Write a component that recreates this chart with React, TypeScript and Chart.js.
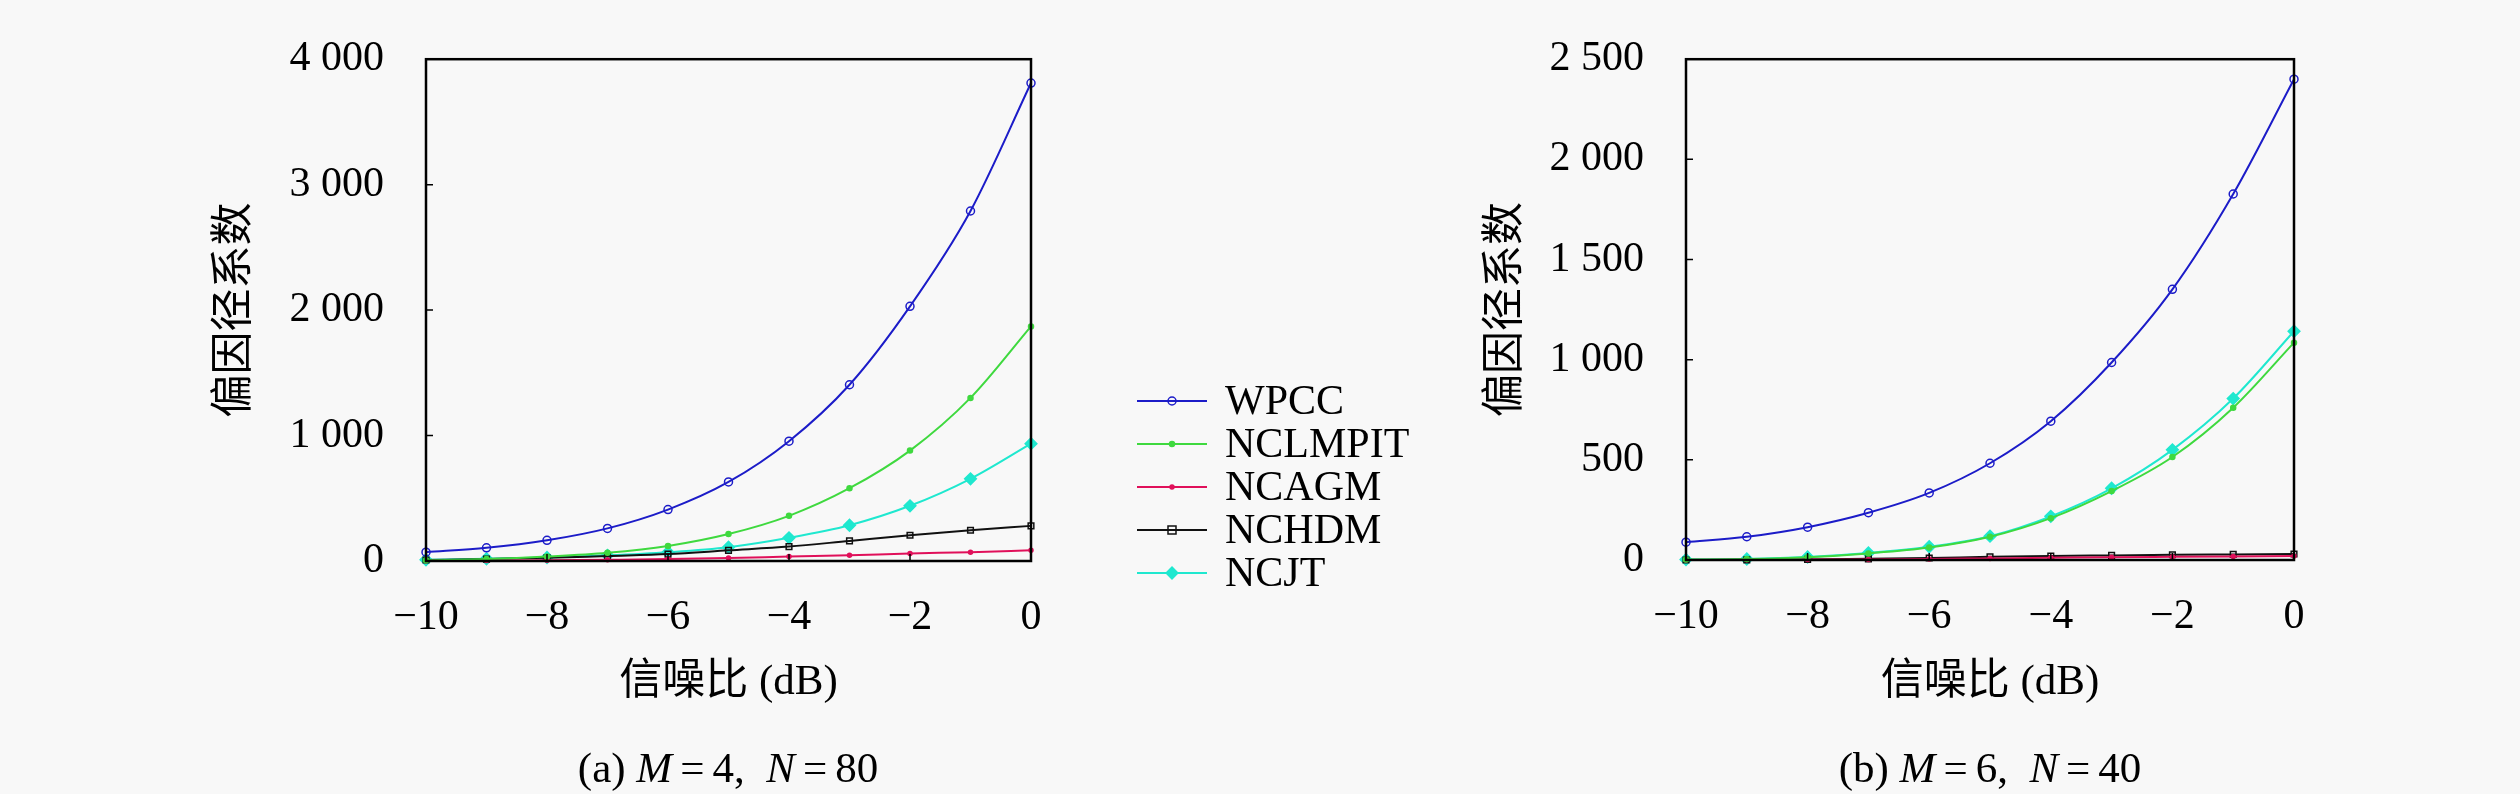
import React, { useEffect, useRef } from 'react';
import { Chart, registerables } from 'chart.js';

Chart.register(...registerables);

const snr = [-10, -9, -8, -7, -6, -5, -4, -3, -2, -1, 0];
const seriesNames = ['WPCC', 'NCLMPIT', 'NCAGM', 'NCHDM', 'NCJT'];

// (a) M=4, N=80
const wpccA = [70, 105, 165, 260, 410, 630, 955, 1405, 2030, 2790, 3810];
const nclmpitA = [5, 15, 35, 65, 120, 215, 360, 580, 880, 1300, 1870];
const ncagmA = [2, 4, 6, 10, 15, 23, 35, 46, 60, 70, 85];
const nchdmA = [8, 15, 25, 40, 55, 85, 115, 160, 205, 245, 280];
const ncjtA = [10, 18, 28, 45, 70, 110, 185, 285, 440, 655, 935];

// (b) M=6, N=40
const wpccB = [89, 116, 164, 236, 335, 483, 693, 986, 1351, 1827, 2400];
const nclmpitB = [2, 5, 14, 33, 62, 116, 209, 344, 514, 760, 1085];
const ncagmB = [0, 1, 2, 3, 5, 8, 11, 14, 16, 18, 20];
const nchdmB = [0, 1, 3, 6, 10, 16, 20, 23, 26, 28, 30];
const ncjtB = [2, 5, 15, 35, 66, 119, 218, 358, 550, 806, 1142];

const colors = ['#1c1cc8', '#3fd93f', '#e0105a', '#111111', '#1fe8cf'];
const pointStyles = ['circle', 'circle', 'circle', 'rect', 'rectRot'];
const filled = [false, true, true, false, true];
const radii = [4, 2.5, 2, 4, 4.5];

const SERIF = '"Liberation Serif", "Noto Sans CJK SC", serif';
const H = 794;

const fmtThousands = (v: number) => {
    const s = String(v);
    return s.length > 3 ? s.slice(0, s.length - 3) + ' ' + s.slice(-3) : s;
};

const drawMarker = (ctx: CanvasRenderingContext2D, i: number, x: number, y: number) => {
    const r = radii[i];
    ctx.beginPath();
    if (pointStyles[i] === 'rect') {
        ctx.rect(x - r, y - r, 2 * r, 2 * r);
    } else if (pointStyles[i] === 'rectRot') {
        ctx.moveTo(x, y - r * 1.3);
        ctx.lineTo(x + r * 1.3, y);
        ctx.lineTo(x, y + r * 1.3);
        ctx.lineTo(x - r * 1.3, y);
        ctx.closePath();
    } else {
        ctx.arc(x, y, r, 0, Math.PI * 2);
    }
    if (filled[i]) {
        ctx.fillStyle = colors[i];
        ctx.fill();
    }
    ctx.strokeStyle = colors[i];
    ctx.lineWidth = 1.5;
    ctx.stroke();
};

// box around the plot plus inward tick marks
const framePlugin = {
    id: 'frame',
    afterDraw(chart: any) {
        const { ctx, chartArea: a, scales } = chart;
        ctx.save();
        ctx.strokeStyle = '#000';
        ctx.lineWidth = 1.5;
        ctx.beginPath();
        scales.x.ticks.forEach((t: any) => {
            const px = scales.x.getPixelForValue(t.value);
            ctx.moveTo(px, a.bottom);
            ctx.lineTo(px, a.bottom - 7);
        });
        scales.y.ticks.forEach((t: any) => {
            const py = scales.y.getPixelForValue(t.value);
            ctx.moveTo(a.left, py);
            ctx.lineTo(a.left + 7, py);
        });
        ctx.stroke();
        ctx.lineWidth = 2.5;
        ctx.strokeRect(a.left, a.top, a.right - a.left, a.bottom - a.top);
        ctx.restore();
    },
};

// legend drawn in the gap between the two panels
const sideLegendPlugin = {
    id: 'sideLegend',
    afterDraw(chart: any) {
        const { ctx } = chart;
        ctx.save();
        ctx.font = `42px ${SERIF}`;
        ctx.textBaseline = 'middle';
        ctx.textAlign = 'left';
        seriesNames.forEach((name, i) => {
            const y = 401 + i * 43;
            ctx.strokeStyle = colors[i];
            ctx.lineWidth = 2;
            ctx.beginPath();
            ctx.moveTo(1137, y);
            ctx.lineTo(1207, y);
            ctx.stroke();
            drawMarker(ctx, i, 1172, y);
            ctx.fillStyle = '#000';
            ctx.fillText(name, 1225, y + 2);
        });
        ctx.restore();
    },
};

interface PanelProps {
    left: number;
    width: number;
    axisWidth: number;
    padRight: number;
    bottom: number;
    titleX: number;
    yMax: number;
    yStep: number;
    series: number[][];
    legend?: boolean;
}

const Panel: React.FC<PanelProps> = ({ left, width, axisWidth, padRight, bottom, titleX, yMax, yStep, series, legend }) => {
    const chartRef = useRef<HTMLCanvasElement>(null);

    useEffect(() => {
        if (!chartRef.current) return;
        const titleSize = 43;
        const chart = new Chart(chartRef.current, {
            type: 'line',
            data: {
                datasets: series.map((vals, i) => ({
                    label: seriesNames[i],
                    data: vals.map((v, k) => ({ x: snr[k], y: v })),
                    borderColor: colors[i],
                    backgroundColor: filled[i] ? colors[i] : 'rgba(0,0,0,0)',
                    borderWidth: 2,
                    pointStyle: pointStyles[i] as any,
                    pointRadius: pointStyles[i] === 'rectRot' ? radii[i] * 1.3 : radii[i],
                    pointBorderWidth: 1.5,
                    cubicInterpolationMode: 'monotone' as const,
                    clip: 10,
                })),
            },
            options: {
                responsive: false,
                animation: false,
                layout: { padding: { top: 26, right: padRight, bottom: 0, left: 0 } },
                plugins: { legend: { display: false }, tooltip: { enabled: false } },
                scales: {
                    x: {
                        type: 'linear',
                        min: -10,
                        max: 0,
                        grid: { display: false },
                        border: { display: false },
                        ticks: {
                            stepSize: 2,
                            padding: 24,
                            color: '#000',
                            font: { family: SERIF, size: 42 },
                            callback: (v: any) => (v < 0 ? '\u2212' + Math.abs(v) : String(v)),
                        },
                        title: {
                            display: true,
                            text: '信噪比 (dB)',
                            color: '#000',
                            font: { family: SERIF, size: titleSize },
                            padding: { top: 0, bottom: H - 683 - (titleSize * 1.2) / 2 },
                        },
                        afterFit: (scale: any) => {
                            scale.height = H - bottom;
                        },
                    },
                    y: {
                        min: 0,
                        max: yMax,
                        grid: { display: false },
                        border: { display: false },
                        ticks: {
                            stepSize: yStep,
                            padding: 34,
                            color: '#000',
                            font: { family: SERIF, size: 42 },
                            callback: (v: any) => fmtThousands(Number(v)),
                        },
                        title: {
                            display: true,
                            text: '偏因径系数',
                            color: '#000',
                            font: { family: SERIF, size: titleSize },
                            padding: { top: titleX - left - (titleSize * 1.2) / 2, bottom: 0 },
                        },
                        afterFit: (scale: any) => {
                            scale.width = axisWidth;
                        },
                    },
                },
            },
            plugins: legend ? [framePlugin, sideLegendPlugin] : [framePlugin],
        });
        return () => chart.destroy();
    }, [left, width, axisWidth, padRight, bottom, titleX, yMax, yStep, series, legend]);

    return (
        <canvas
            ref={chartRef}
            width={width}
            height={H}
            style={{ position: 'absolute', left, top: 0, width, height: H }}
        />
    );
};

const Caption: React.FC<{ center: number; tag: string; m: number; n: number }> = ({ center, tag, m, n }) => (
    <div
        style={{
            position: 'absolute',
            left: center - 300,
            top: 743,
            width: 600,
            textAlign: 'center',
            fontFamily: SERIF,
            fontSize: 43,
            lineHeight: '50px',
            color: '#000',
        }}
    >
        ({tag}) <i>M</i>
        <span style={{ margin: '0 8px' }}>=</span>
        {m},&nbsp; <i>N</i>
        <span style={{ margin: '0 8px' }}>=</span>
        {n}
    </div>
);

const seriesA = [wpccA, nclmpitA, ncagmA, nchdmA, ncjtA];
const seriesB = [wpccB, nclmpitB, ncagmB, nchdmB, ncjtB];

export default function App() {
    return (
        <div style={{ position: 'absolute', left: 0, top: 0, width: 2520, height: H, background: '#f8f8f8', overflow: 'hidden' }}>
            <Panel left={0} width={1450} axisWidth={426} padRight={419} bottom={561} titleX={236} yMax={4000} yStep={1000} series={seriesA} legend />
            <Panel left={1460} width={890} axisWidth={226} padRight={56} bottom={560} titleX={1507} yMax={2500} yStep={500} series={seriesB} />
            <Caption center={728} tag="a" m={4} n={80} />
            <Caption center={1990} tag="b" m={6} n={40} />
        </div>
    );
}
